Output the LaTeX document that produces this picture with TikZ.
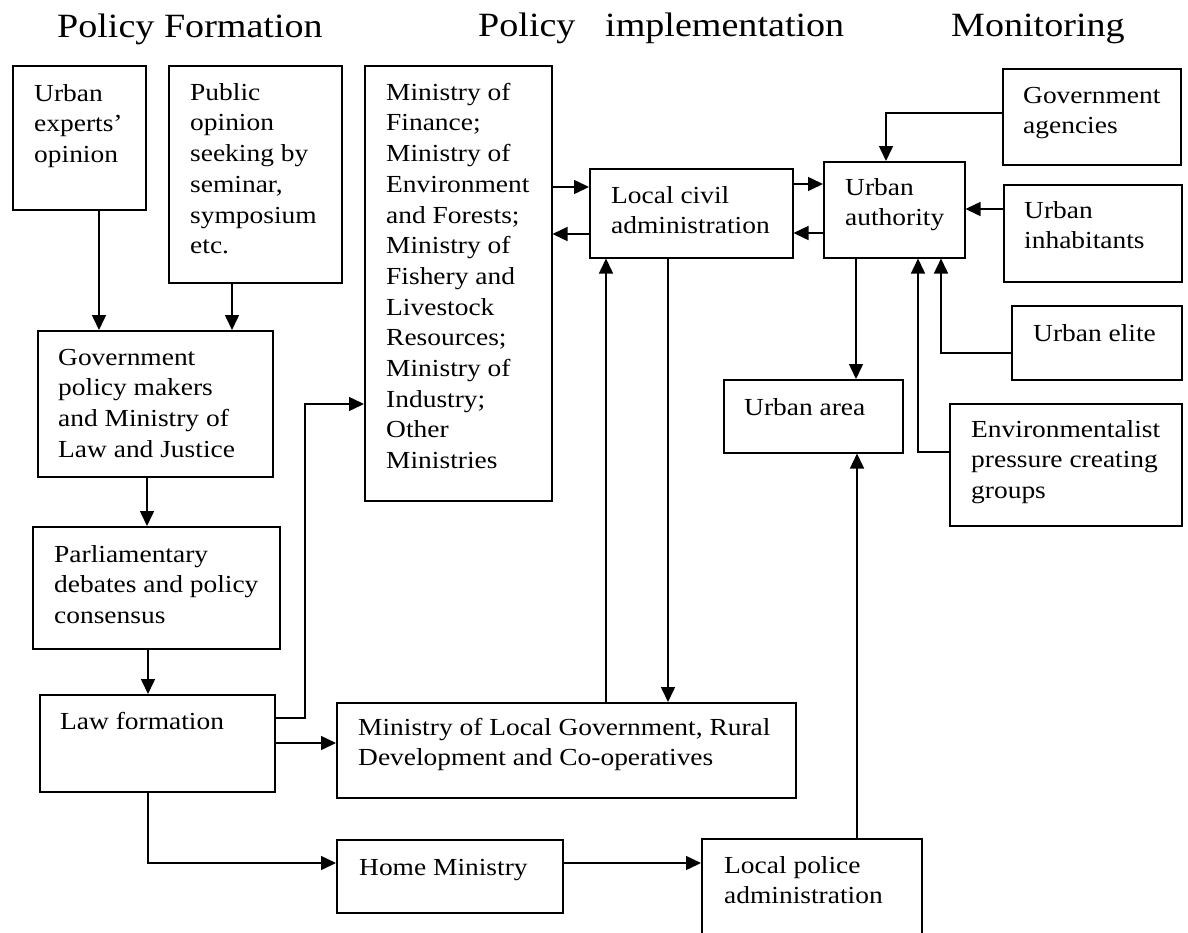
\documentclass[tikz,border=0pt]{standalone}
\usepackage{fontspec}
\setmainfont{Liberation Serif}[FakeStretch=1.12]
\usetikzlibrary{arrows.meta}
% fixed first-line height so every label starts at a known baseline
\newcommand\lnstrut{\rule{0pt}{18pt}}
\begin{document}
\begin{tikzpicture}[x=1pt,y=-1pt,
  box/.style={draw, line width=1.5pt, inner sep=0pt, anchor=north west},
  lbl/.style={inner sep=0pt, anchor=north west, align=left,
              font=\fontsize{24.5}{30.7}\selectfont},
  head/.style={inner sep=0pt, anchor=base west, font=\fontsize{34}{40}\selectfont},
  arr/.style={line width=1.5pt, -{Triangle[length=15pt,width=14pt]}}]
\useasboundingbox (0,0) rectangle (1188,932);
\clip (0,0) rectangle (1188,932);

% column headings
\node[head] (hform) at (57,37) {Policy Formation};
\node[head] (hpol)  at (478,36) {Policy};
\node[head] (himpl) at (605,36) {implementation};
\node[head] (hmon)  at (951,36) {Monitoring};

% boxes
\node[box, minimum width=133pt, minimum height=144pt] (exp)    at (12,65)   {};
\node[box, minimum width=173pt, minimum height=217pt] (pub)    at (168,65)  {};
\node[box, minimum width=187pt, minimum height=435pt] (min)    at (364,65)  {};
\node[box, minimum width=235pt, minimum height=146pt] (gov)    at (37,330)  {};
\node[box, minimum width=247pt, minimum height=122pt] (parl)   at (32,526)  {};
\node[box, minimum width=235pt, minimum height=97pt]  (law)    at (39,694)  {};
\node[box, minimum width=459pt, minimum height=95pt]  (minloc) at (336,702) {};
\node[box, minimum width=226pt, minimum height=73pt]  (home)   at (336,839) {};
\node[box, minimum width=220pt, minimum height=122pt] (police) at (701,838) {};
\node[box, minimum width=203pt, minimum height=89pt]  (civ)    at (589,168) {};
\node[box, minimum width=141pt, minimum height=96pt]  (ua)     at (823,161) {};
\node[box, minimum width=178pt, minimum height=96pt]  (ag)     at (1002,68) {};
\node[box, minimum width=178pt, minimum height=97pt]  (inh)    at (1003,184) {};
\node[box, minimum width=170pt, minimum height=74pt]  (elite)  at (1011,305) {};
\node[box, minimum width=179pt, minimum height=73pt]  (area)   at (723,379) {};
\node[box, minimum width=232pt, minimum height=122pt] (env)    at (949,403) {};

% labels
\node[lbl] (exp-t)    at (34,83)   {\lnstrut Urban\\experts’\\opinion};
\node[lbl] (pub-t)    at (190,82)  {\lnstrut Public\\opinion\\seeking by\\seminar,\\symposium\\etc.};
\node[lbl] (min-t)    at (386,82)  {\lnstrut Ministry of\\Finance;\\Ministry of\\Environment\\and Forests;\\Ministry of\\Fishery and\\Livestock\\Resources;\\Ministry of\\Industry;\\Other\\Ministries};
\node[lbl] (gov-t)    at (58,347)  {\lnstrut Government\\policy makers\\and Ministry of\\Law and Justice};
\node[lbl] (parl-t)   at (54,544)  {\lnstrut Parliamentary\\debates and policy\\consensus};
\node[lbl] (law-t)    at (60,711)  {\lnstrut Law formation};
\node[lbl] (minloc-t) at (358,717) {\lnstrut Ministry of Local Government, Rural\\Development and Co-operatives};
\node[lbl] (home-t)   at (359,857) {\lnstrut Home Ministry};
\node[lbl] (police-t) at (724,855) {\lnstrut Local police\\administration};
\node[lbl] (civ-t)    at (611,185) {\lnstrut Local civil\\administration};
\node[lbl] (ua-t)     at (845,177) {\lnstrut Urban\\authority};
\node[lbl] (ag-t)     at (1023,85) {\lnstrut Government\\agencies};
\node[lbl] (inh-t)    at (1024,200) {\lnstrut Urban\\inhabitants};
\node[lbl] (elite-t)  at (1033,323) {\lnstrut Urban elite};
\node[lbl] (area-t)   at (744,397) {\lnstrut Urban area};
\node[lbl] (env-t)    at (971,419) {\lnstrut Environmentalist\\pressure creating\\groups};

% policy formation chain
\draw[arr] (exp.south -| 99,0)  -- (gov.north -| 99,0);
\draw[arr] (pub.south -| 232,0) -- (gov.north -| 232,0);
\draw[arr] (gov.south -| 147,0) -- (parl.north -| 147,0);
\draw[arr] (parl.south -| 148,0) -- (law.north -| 148,0);

% from law formation to the ministries
\coordinate (lawbend) at (305,404);
\draw[arr] (law.east |- 0,718) -| (lawbend) -- (min.west |- lawbend);
\draw[arr] (law.east |- 0,743) -- (minloc.west |- 0,743);
\draw[arr] (law.south -| 148,0) |- (home.west |- 0,863);
\draw[arr] (home.east |- 0,863) -- (police.west |- 0,863);

% implementation links
\draw[arr] (min.east |- 0,187) -- (civ.west |- 0,187);
\draw[arr] (civ.west |- 0,234) -- (min.east |- 0,234);
\draw[arr] (civ.east |- 0,184) -- (ua.west |- 0,184);
\draw[arr] (ua.west |- 0,233) -- (civ.east |- 0,233);
\draw[arr] (minloc.north -| 606,0) -- (civ.south -| 606,0);
\draw[arr] (civ.south -| 668,0) -- (minloc.north -| 668,0);

% monitoring links
\draw[arr] (ag.west |- 0,113) -| (ua.north -| 886,0);
\draw[arr] (inh.west |- 0,209) -- (ua.east |- 0,209);
\draw[arr] (elite.west |- 0,353) -| (ua.south -| 941,0);
\draw[arr] (env.west |- 0,452) -| (ua.south -| 918,0);
\draw[arr] (ua.south -| 856,0) -- (area.north -| 856,0);
\draw[arr] (police.north -| 857,0) -- (area.south -| 857,0);
\end{tikzpicture}
\end{document}
